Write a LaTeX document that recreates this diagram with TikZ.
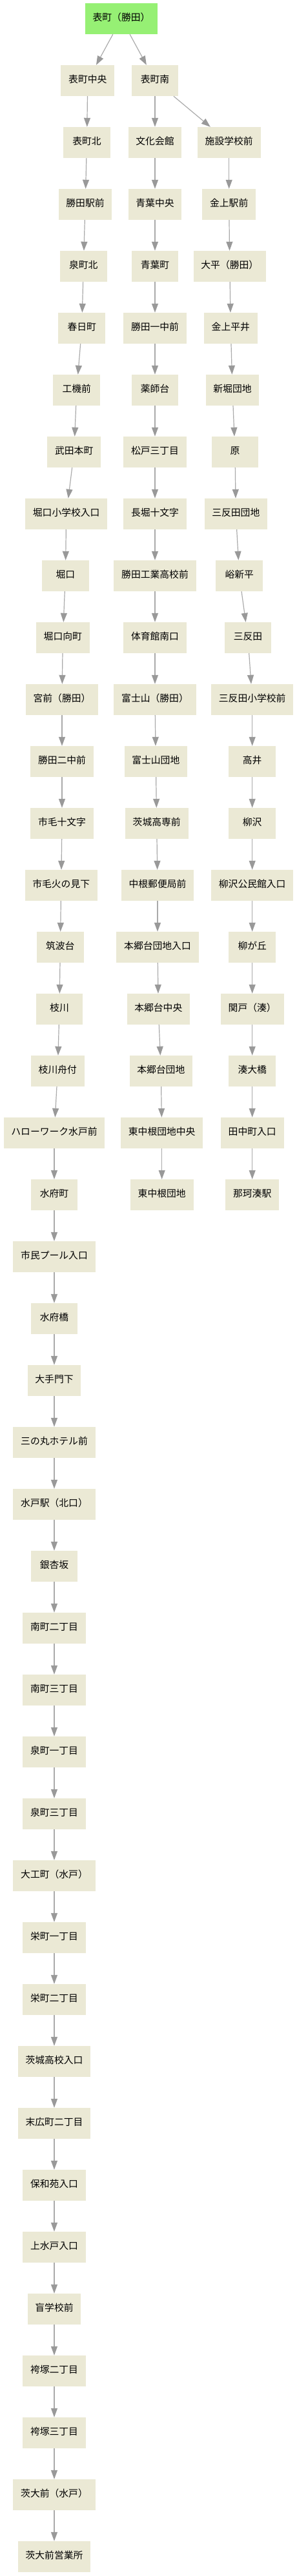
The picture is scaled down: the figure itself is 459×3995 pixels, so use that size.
\documentclass[tikz,border=0pt]{standalone}
\usepackage{fontspec}
\newfontfamily\jp{Noto Sans CJK JP}
\usetikzlibrary{arrows.meta}
\definecolor{boxfill}{RGB}{235,233,213}
\definecolor{rootfill}{RGB}{150,240,116}
\definecolor{edgeline}{RGB}{170,170,170}
\definecolor{edgehead}{RGB}{153,153,153}
\begin{document}
\begin{tikzpicture}[x=1pt,y=-1pt,
  stop/.style={fill=boxfill, draw=none, minimum height=48pt, minimum width=72.7pt,
    inner xsep=11.8pt, inner ysep=0pt, font=\jp\fontsize{14.8}{17}\selectfont,
    text height=0.8em, text depth=0.05em},
  rootstop/.style={stop, fill=rootfill},
  link/.style={draw=edgeline, line width=1.2pt,
    -{Triangle[length=14pt,width=10pt,color=edgehead]}}]
\useasboundingbox (0,0) rectangle (459,3995);

\node[rootstop] (r) at (188,29) {表町（勝田）};

% left branch
\node[stop] (a1) at (135.8,125) {表町中央};
\node[stop] (a2) at (134.5,221) {表町北};
\node[stop] (a3) at (132,317) {勝田駅前};
\node[stop] (a4) at (129.3,413) {泉町北};
\node[stop] (a5) at (126.7,509) {春日町};
\node[stop] (a6) at (118.7,605) {工機前};
\node[stop] (a7) at (114.7,701) {武田本町};
\node[stop] (a8) at (102.7,797) {堀口小学校入口};
\node[stop] (a9) at (101.3,893) {堀口};
\node[stop] (a10) at (97.3,989) {堀口向町};
\node[stop] (a11) at (96,1085) {宮前（勝田）};
\node[stop] (a12) at (96,1181) {勝田二中前};
\node[stop] (a13) at (96,1277) {市毛十文字};
\node[stop] (a14) at (94.7,1373) {市毛火の見下};
\node[stop] (a15) at (93.3,1469) {筑波台};
\node[stop] (a16) at (92,1565) {枝川};
\node[stop] (a17) at (89.3,1661) {枝川舟付};
\node[stop] (a18) at (84,1757) {ハローワーク水戸前};
\node[stop] (a19) at (84,1853) {水府町};
\node[stop] (a20) at (84,1949) {市民プール入口};
\node[stop] (a21) at (84,2045) {水府橋};
\node[stop] (a22) at (84,2141) {大手門下};
\node[stop] (a23) at (84,2237) {三の丸ホテル前};
\node[stop] (a24) at (84,2333) {水戸駅（北口）};
\node[stop] (a25) at (84,2429) {銀杏坂};
\node[stop] (a26) at (84,2525) {南町二丁目};
\node[stop] (a27) at (84,2621) {南町三丁目};
\node[stop] (a28) at (84,2717) {泉町一丁目};
\node[stop] (a29) at (84,2813) {泉町三丁目};
\node[stop] (a30) at (84,2909) {大工町（水戸）};
\node[stop] (a31) at (84,3005) {栄町一丁目};
\node[stop] (a32) at (84,3101) {栄町二丁目};
\node[stop] (a33) at (84,3197) {茨城高校入口};
\node[stop] (a34) at (84,3293) {末広町二丁目};
\node[stop] (a35) at (84,3389) {保和苑入口};
\node[stop] (a36) at (84,3485) {上水戸入口};
\node[stop] (a37) at (84,3581) {盲学校前};
\node[stop] (a38) at (84,3677) {袴塚二丁目};
\node[stop] (a39) at (84,3773) {袴塚三丁目};
\node[stop] (a40) at (84,3869) {茨大前（水戸）};
\node[stop] (a41) at (84,3965) {茨大前営業所};

% middle branch
\node[stop] (b1) at (240,125) {表町南};
\node[stop] (b2) at (240,221) {文化会館};
\node[stop] (b3) at (240,317) {青葉中央};
\node[stop] (b4) at (240,413) {青葉町};
\node[stop] (b5) at (240,509) {勝田一中前};
\node[stop] (b6) at (240,605) {薬師台};
\node[stop] (b7) at (240,701) {松戸三丁目};
\node[stop] (b8) at (240,797) {長堀十文字};
\node[stop] (b9) at (240,893) {勝田工業高校前};
\node[stop] (b10) at (240,989) {体育館南口};
\node[stop] (b11) at (240,1085) {富士山（勝田）};
\node[stop] (b12) at (241.3,1181) {富士山団地};
\node[stop] (b13) at (242.7,1277) {茨城高専前};
\node[stop] (b14) at (244,1373) {中根郵便局前};
\node[stop] (b15) at (244,1469) {本郷台団地入口};
\node[stop] (b16) at (245.3,1565) {本郷台中央};
\node[stop] (b17) at (249.3,1661) {本郷台団地};
\node[stop] (b18) at (250.7,1757) {東中根団地中央};
\node[stop] (b19) at (250.7,1853) {東中根団地};

% right branch
\node[stop] (c2) at (354.7,221) {施設学校前};
\node[stop] (c3) at (354.7,317) {金上駅前};
\node[stop] (c4) at (355.8,413) {大平（勝田）};
\node[stop] (c5) at (357.3,509) {金上平井};
\node[stop] (c6) at (360,605) {新堀団地};
\node[stop] (c7) at (364,701) {原};
\node[stop] (c8) at (365.3,797) {三反田団地};
\node[stop] (c9) at (370.7,893) {峪新平};
\node[stop] (c10) at (384,989) {三反田};
\node[stop] (c11) at (390.7,1085) {三反田小学校前};
\node[stop] (c12) at (390.7,1181) {高井};
\node[stop] (c13) at (390.7,1277) {柳沢};
\node[stop] (c14) at (390.7,1373) {柳沢公民館入口};
\node[stop] (c15) at (390.7,1469) {柳が丘};
\node[stop] (c16) at (390.7,1565) {関戸（湊）};
\node[stop] (c17) at (390.7,1661) {湊大橋};
\node[stop] (c18) at (390.7,1757) {田中町入口};
\node[stop] (c19) at (390.7,1853) {那珂湊駅};

% connectors
\draw[link] (r) -- (a1);
\draw[link] (r) -- (b1);
\draw[link] (b1) -- (c2);
\foreach \i [evaluate=\i as \j using int(\i+1)] in {1,...,40}
  \draw[link] (a\i) -- (a\j);
\foreach \i [evaluate=\i as \j using int(\i+1)] in {1,...,18}
  \draw[link] (b\i) -- (b\j);
\foreach \i [evaluate=\i as \j using int(\i+1)] in {2,...,18}
  \draw[link] (c\i) -- (c\j);
\end{tikzpicture}
\end{document}
